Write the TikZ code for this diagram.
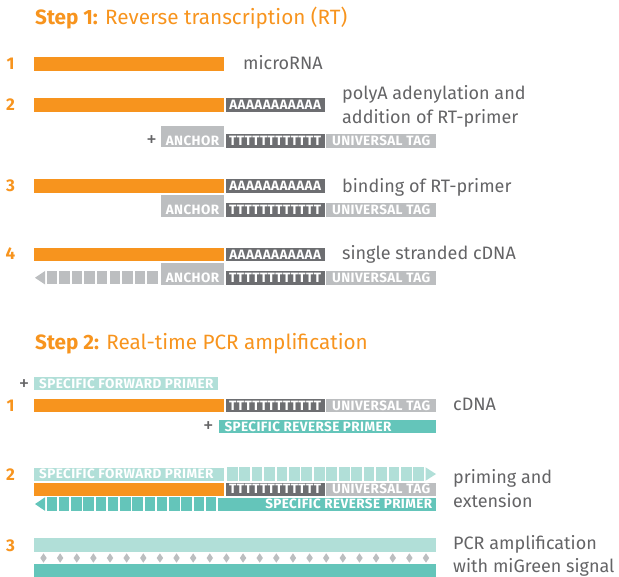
\documentclass[tikz,border=0pt]{standalone}
\usepackage{fontspec}
\setmainfont{Fira Sans}
\newfontfamily\tagfont[LetterSpace=3]{Fira Sans}
\usetikzlibrary{positioning}

\definecolor{rna}{RGB}{247,148,30}
\definecolor{tagdark}{RGB}{109,110,113}
\definecolor{taglight}{RGB}{188,190,192}
\definecolor{primerlight}{RGB}{177,223,216}
\definecolor{primer}{RGB}{100,197,186}
\definecolor{txtgray}{RGB}{100,100,102}

\tikzset{
  seg/.style={rectangle, inner sep=0pt, anchor=north west, minimum height=13.5},
  tag/.style={text=white, inner sep=0pt, font=\tagfont\bfseries\fontsize{13.5}{13.5}\selectfont},
  num/.style={text=rna, inner sep=0pt, font=\bfseries\fontsize{17}{17}\selectfont},
  note/.style={text=txtgray, inner sep=0pt, anchor=base west, font=\fontsize{18}{20}\selectfont},
  heading/.style={text=rna, inner sep=0pt, anchor=base west, font=\fontsize{20.7}{22}\selectfont},
  plus/.style={text=txtgray, inner sep=0pt, font=\fontsize{21}{21}\selectfont}
}

\begin{document}
\begin{tikzpicture}[x=1pt, y=-1pt]
  \useasboundingbox (0,0) rectangle (619,577);

  % Step 1
  \node[heading] (title1) at (35,25) {\textbf{Step 1:} Reverse transcription (RT)};

  \node[num] (n11) at (10.5,64) {1};
  \node[seg, fill=rna, minimum width=190] (rna1) at (34,57) {};
  \node[note] (txt11) at (243,69.5) {microRNA};

  \node[num] (n12) at (10.5,104.5) {2};
  \node[seg, fill=rna, minimum width=190] (rna2) at (34,98) {};
  \node[seg, tag, fill=tagdark, minimum width=99] (polya2) at (225.5,98) {AAAAAAAAAAA};
  \node[note] (txt12a) at (342,100) {polyA adenylation and};
  \node[note] (txt12b) at (342,123.5) {addition of RT-primer};
  \node[plus] (plus12) at (151.5,140.7) {+};
  \node[seg, fill=taglight, minimum width=63, minimum height=21] (anc2) at (161,126) {};
  \node[tag] (anclab2) at (192.5,140.8) {ANCHOR};
  \node[seg, tag, fill=tagdark, minimum width=99] (polyt2) at (225.5,134) {TTTTTTTTTTTT};
  \node[seg, tag, fill=taglight, minimum width=110] (utag2) at (326,134) {UNIVERSAL TAG};

  \node[num] (n13) at (10.5,185.5) {3};
  \node[seg, fill=rna, minimum width=190] (rna3) at (34,179) {};
  \node[seg, tag, fill=tagdark, minimum width=99] (polya3) at (225.5,179) {AAAAAAAAAAA};
  \node[note] (txt13) at (342,192.5) {binding of RT-primer};
  \node[seg, fill=taglight, minimum width=63, minimum height=21.5] (anc3) at (161,195) {};
  \node[tag] (anclab3) at (192.5,209.8) {ANCHOR};
  \node[seg, tag, fill=tagdark, minimum width=99] (polyt3) at (225.5,203) {TTTTTTTTTTTT};
  \node[seg, tag, fill=taglight, minimum width=110] (utag3) at (326,203) {UNIVERSAL TAG};

  \node[num] (n14) at (10.5,254) {4};
  \node[seg, fill=rna, minimum width=190] (rna4) at (34,247.5) {};
  \node[seg, tag, fill=tagdark, minimum width=99] (polya4) at (225.5,247.5) {AAAAAAAAAAA};
  \node[note] (txt14) at (342,259.5) {single stranded cDNA};
  \node[seg, fill=taglight, minimum width=63, minimum height=22] (anc4) at (161,262.5) {};
  \node[tag] (anclab4) at (192.5,277.8) {ANCHOR};
  \node[seg, tag, fill=tagdark, minimum width=99] (polyt4) at (225.5,271) {TTTTTTTTTTTT};
  \node[seg, tag, fill=taglight, minimum width=110] (utag4) at (326,271) {UNIVERSAL TAG};
  % new strand, growing to the left
  \fill[taglight] (35,277.75) -- (45,271) -- (45,284.5) -- cycle;
  \foreach \i in {0,...,8}
    \fill[taglight] ({46.5+12.6*\i},271) rectangle ++(10.5,13.5);

  % Step 2
  \node[heading] (title2) at (35,350) {\textbf{Step 2:} Real-time PCR amplification};

  \node[plus] (plus21a) at (24,385) {+};
  \node[seg, fill=primerlight, minimum width=184, minimum height=13] (fwd1) at (34,377.3) {};
  \node[tag, anchor=west] (fwdlab1) at ([xshift=5]fwd1.west) {SPECIFIC FORWARD PRIMER};
  \node[num] (n21) at (10.5,405.5) {1};
  \node[seg, fill=rna, minimum width=190] (cdna1) at (34,398.5) {};
  \node[seg, tag, fill=tagdark, minimum width=99] (polyt21) at (225.5,398.5) {TTTTTTTTTTTT};
  \node[seg, tag, fill=taglight, minimum width=110] (utag21) at (326,398.5) {UNIVERSAL TAG};
  \node[note] (txt21) at (453,411) {cDNA};
  \node[plus] (plus21b) at (208.3,426.7) {+};
  \node[seg, fill=primer, minimum width=217.7, minimum height=13.3] (rev1) at (218.3,420) {};
  \node[tag, anchor=west] (revlab1) at ([xshift=6]rev1.west) {SPECIFIC REVERSE PRIMER};

  \node[num] (n22) at (10.5,474.5) {2};
  \node[seg, fill=primerlight, minimum width=190] (fwd2) at (34,467.3) {};
  \node[tag, anchor=west] (fwdlab2) at ([xshift=5]fwd2.west) {SPECIFIC FORWARD PRIMER};
  \foreach \i in {0,...,15}
    \fill[primerlight] ({226.7+12.45*\i},467.3) rectangle ++(10.8,13.5);
  \fill[primerlight] (425.5,467.3) -- (436,474.05) -- (425.5,480.8) -- cycle;
  \node[seg, fill=rna, minimum width=190] (cdna2) at (34,482.3) {};
  \node[seg, tag, fill=tagdark, minimum width=99] (polyt22) at (225.5,482.3) {TTTTTTTTTTTT};
  \node[seg, tag, fill=taglight, minimum width=110] (utag22) at (326,482.3) {UNIVERSAL TAG};
  \node[seg, fill=primer, minimum width=218] (rev2) at (218,497.3) {};
  \node[tag, anchor=east] (revlab2) at ([xshift=-4]rev2.east) {SPECIFIC REVERSE PRIMER};
  \fill[primer] (35,504.05) -- (45,497.3) -- (45,510.8) -- cycle;
  \foreach \i in {0,...,13}
    \fill[primer] ({46.5+12.25*\i},497.3) rectangle ++(10.7,13.5);
  \node[note] (txt22a) at (453,483) {priming and};
  \node[note] (txt22b) at (453,507.5) {extension};

  \node[num] (n23) at (10.5,545.5) {3};
  \node[seg, fill=primerlight, minimum width=402, minimum height=14] (amp1) at (34,538) {};
  \foreach \i in {0,...,23}
    \fill[taglight] ({43.5+16.63*\i},553.3) -- ++(3.2,4.7) -- ++(-3.2,4.7) -- ++(-3.2,-4.7) -- cycle;
  \node[seg, fill=primer, minimum width=402, minimum height=13] (amp2) at (34,564) {};
  \node[note] (txt23a) at (453,549.5) {PCR amplification};
  \node[note] (txt23b) at (453,572) {with miGreen signal};
\end{tikzpicture}
\end{document}
